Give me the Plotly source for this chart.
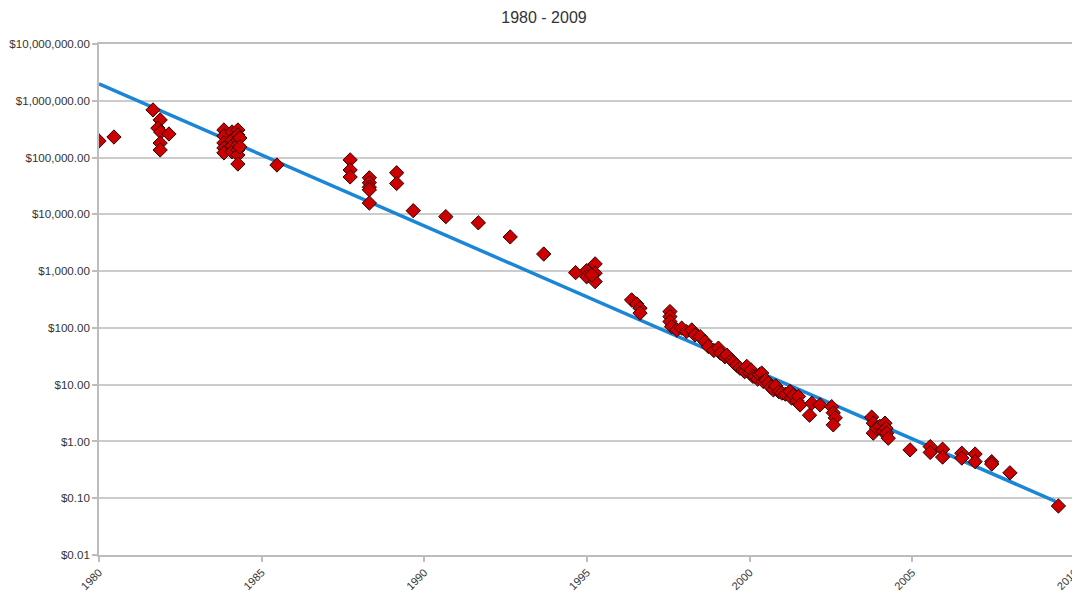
import plotly.graph_objects as go

# Observed data points (year, cost in dollars)
years = [
    1980.0, 1980.46, 1981.66, 1981.88, 1981.81, 1981.9, 1981.88, 1981.88, 1982.15,
    1983.84, 1983.84, 1983.84, 1983.84, 1983.84,
    1984.09, 1984.09, 1984.09, 1984.09,
    1984.27, 1984.27, 1984.27, 1984.27, 1984.27, 1984.27, 1984.27,
    1984.33, 1984.33,
    1985.47,
    1987.72, 1987.72, 1987.72,
    1988.31, 1988.31, 1988.31, 1988.31, 1988.31,
    1989.15, 1989.15, 1989.66, 1990.66, 1991.66, 1992.64, 1993.67,
    1994.65, 1994.99, 1994.99, 1995.25, 1995.25, 1995.25, 1995.15,
    1996.37, 1996.53, 1996.63, 1996.63,
    1997.55, 1997.55, 1997.55, 1997.6, 1997.76, 1997.91, 1998.06, 1998.22,
    1998.32, 1998.48, 1998.63, 1998.73, 1998.9, 1999.04, 1999.1, 1999.24,
    1999.3, 1999.45, 1999.5, 1999.6, 1999.7, 1999.8, 1999.85, 1999.91,
    2000.01, 2000.05, 2000.1, 2000.17, 2000.25, 2000.3, 2000.37, 2000.42,
    2000.5, 2000.58, 2000.65, 2000.73, 2000.8, 2000.9, 2000.99, 2001.1,
    2001.24, 2001.29, 2001.35, 2001.45, 2001.5, 2001.55, 2001.84, 2001.91,
    2002.16, 2002.52, 2002.57, 2002.63, 2002.57,
    2003.75, 2003.8, 2003.8, 2003.9, 2004.0, 2004.1, 2004.16, 2004.19, 2004.21, 2004.26,
    2004.93, 2005.55, 2005.55, 2005.93, 2005.93, 2006.52, 2006.52,
    2006.93, 2006.93, 2007.44, 2007.44, 2008.0, 2009.49,
]
costs = [
    196000, 230000, 690000, 460000, 330000, 280000, 180000, 136000, 260000,
    306000, 240000, 181000, 148000, 121000,
    282000, 204000, 160000, 126000,
    306000, 250000, 204000, 167000, 136000, 111000, 77000,
    221000, 154000,
    74000,
    91000, 60500, 45500,
    44000, 36000, 30000, 27000, 15800,
    54000, 35000, 11600, 9100, 7100, 4000, 2000,
    940, 1020, 795, 1340, 920, 653, 857,
    311, 264, 222, 182,
    194, 158, 129, 105, 92, 99, 86, 92,
    75, 70, 57, 47, 40, 44, 36, 31,
    33, 27, 25, 22, 19.5, 18, 17, 21,
    16, 18, 14, 13.8, 12.5, 15, 16, 11.4,
    12, 10.6, 9, 8.1, 9.5, 7.5, 7.1, 6.8,
    7.6, 5.8, 6.5, 5.2, 6.2, 4.4, 2.9, 4.7,
    4.4, 4.1, 3.2, 2.6, 1.96,
    2.68, 2.1, 1.4, 1.71, 1.85, 1.5, 2.1, 1.7, 1.4, 1.14,
    0.71, 0.81, 0.64, 0.73, 0.53, 0.62, 0.51,
    0.60, 0.44, 0.44, 0.40, 0.28, 0.073,
]

# Exponential trend line endpoints
trend_years = [1980.0, 2009.4]
trend_costs = [1.98e6, 0.088]

# Axis ticks
x_ticks = [1980, 1985, 1990, 1995, 2000, 2005, 2010]
y_ticks = [0.01, 0.1, 1, 10, 100, 1000, 10000, 100000, 1000000, 10000000]
y_labels = ["$0.01", "$0.10", "$1.00", "$10.00", "$100.00", "$1,000.00",
            "$10,000.00", "$100,000.00", "$1,000,000.00", "$10,000,000.00"]

fig = go.Figure()
fig.add_trace(go.Scatter(
    x=trend_years, y=trend_costs, mode="lines",
    line=dict(color="#1b86d6", width=3.5), showlegend=False, hoverinfo="skip",
))
fig.add_trace(go.Scatter(
    x=years, y=costs, mode="markers",
    marker=dict(symbol="diamond", size=11, color="#cc0000",
                line=dict(color="#2a0000", width=1)),
    showlegend=False,
))

# The page body adds an 8px offset, so the figure is sized to fit the window.
fig.update_layout(
    width=1072, height=588,
    margin=dict(l=91, r=5, t=36, b=41, autoexpand=False),
    paper_bgcolor="white", plot_bgcolor="white",
    font=dict(family="Liberation Sans, Arial, sans-serif", color="#333333", size=12),
    title=dict(text="1980 - 2009", x=0.5, xanchor="center", y=0.984, yanchor="middle",
               font=dict(size=16, color="#333333"), automargin=False),
)
fig.update_xaxes(
    range=[1980, 2010], tickvals=x_ticks, ticktext=[str(t) for t in x_ticks],
    tickangle=-45, showgrid=False, zeroline=False, automargin=False,
    ticklabeloverflow="allow",
    showline=True, linecolor="#bdbdbd", linewidth=1.5, mirror=True,
    ticks="outside", ticklen=5, tickcolor="#bdbdbd", tickwidth=1.5,
    tickfont=dict(size=11),
)
fig.update_yaxes(
    type="log", range=[-2, 7], tickvals=y_ticks, ticktext=y_labels,
    showgrid=True, gridcolor="#cccccc", gridwidth=1.5, zeroline=False, automargin=False,
    ticklabeloverflow="allow",
    showline=True, linecolor="#bdbdbd", linewidth=1.5, mirror=True,
    ticks="outside", ticklen=5, tickcolor="#bdbdbd", tickwidth=1.5,
    tickfont=dict(size=11.6),
)

fig.write_html("out.html")
